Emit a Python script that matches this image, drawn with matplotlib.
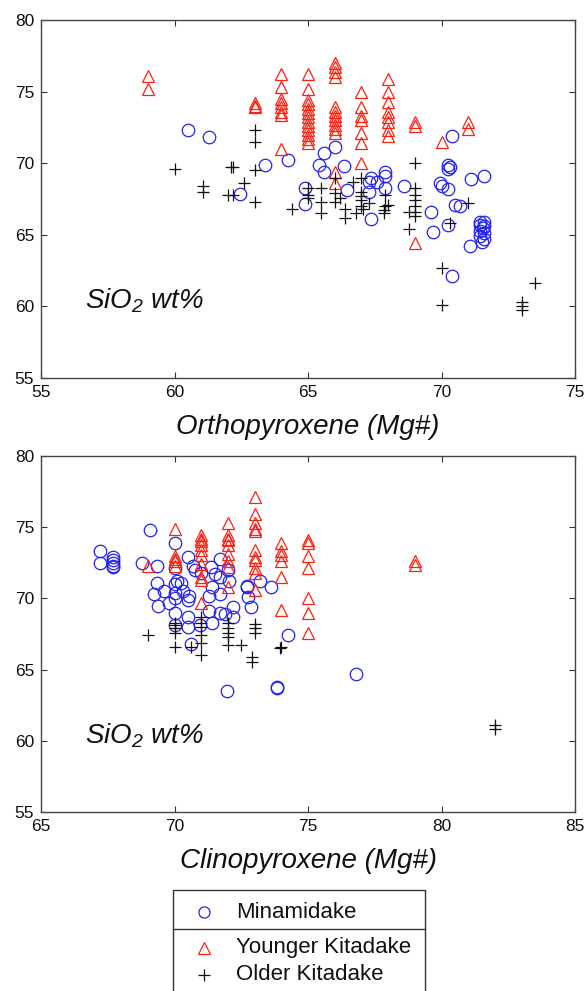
import matplotlib
matplotlib.use("Agg")
import matplotlib.pyplot as plt
from matplotlib.lines import Line2D
from matplotlib.patches import Rectangle

plt.rcParams['font.family'] = ['Liberation Sans', 'DejaVu Sans']

# ---------------- Orthopyroxene (top) ----------------
opx_min_x = [60.5, 61.3, 62.45, 63.4, 64.25, 64.9, 64.9, 65.4, 65.6, 66.0, 65.6, 66.35, 66.45,
             67.35, 67.3, 67.3, 67.35, 67.6, 67.9, 67.9, 67.9, 68.6,
             69.6, 69.7, 69.95, 70.0, 70.25, 70.25, 70.3, 70.25, 70.25, 70.4, 70.4, 70.5, 70.7,
             71.1, 71.6, 71.05,
             71.45, 71.6, 71.45, 71.55, 71.45, 71.6, 71.45, 71.6, 71.5, 71.6]
opx_min_y = [72.3, 71.8, 67.85, 69.9, 70.2, 68.3, 67.15, 69.9, 70.7, 71.1, 69.4, 69.8, 68.1,
             69.0, 68.7, 68.0, 66.1, 68.7, 69.4, 69.1, 68.3, 68.4,
             66.6, 65.2, 68.6, 68.4, 68.2, 69.9, 69.7, 69.6, 65.7, 71.9, 62.1, 67.1, 67.0,
             68.9, 69.1, 64.2,
             65.9, 65.9, 65.7, 65.5, 65.3, 65.1, 64.9, 64.7, 64.5, 65.6]

opx_young_x = [59, 59,
               63, 63, 63,
               64, 64, 64, 64, 64, 64, 64, 64,
               65, 65, 65, 65, 65, 65, 65, 65, 65, 65, 65, 65, 65,
               66, 66, 66, 66, 66, 66, 66, 66, 66, 66, 66, 66, 66,
               67, 67, 67, 67, 67, 67, 67,
               68, 68, 68, 68, 68, 68, 68, 68,
               69, 69, 69,
               70,
               71, 71]
opx_young_y = [76.1, 75.2,
               74.2, 74.0, 73.9,
               76.2, 75.3, 74.5, 74.2, 73.9, 73.6, 73.4, 71.0,
               76.2, 75.2, 74.4, 74.1, 73.8, 73.5, 73.2, 72.9, 72.6, 72.3, 72.0, 71.7, 71.4,
               77.0, 76.7, 76.4, 76.0, 73.9, 73.6, 73.3, 73.0, 72.7, 72.4, 72.1, 69.4, 68.6,
               75.0, 73.9, 73.3, 73.0, 72.1, 71.4, 70.0,
               75.9, 75.0, 74.3, 73.6, 73.2, 72.9, 72.3, 71.9,
               72.9, 72.6, 64.4,
               71.5,
               72.9, 72.4]

opx_old_x = [60.0, 61.05, 61.05, 62.1, 62.2, 62.0, 62.2, 62.6, 63.0, 63.0, 63.0, 63.0, 64.4,
             65.0, 65.0, 65.0, 65.5, 65.5, 65.5, 66.0, 66.0, 66.0, 66.2, 66.4, 66.4, 66.7, 66.8,
             67.0, 67.0, 67.0, 67.0, 67.0, 67.05, 67.3, 67.85, 67.85, 67.9, 67.9, 68.0,
             68.8, 68.8, 69.0, 69.0, 69.0, 69.0, 69.0, 69.0, 69.0,
             70.0, 70.0, 70.3, 71.0, 73.0, 73.0, 73.0, 73.5]
opx_old_y = [69.6, 68.4, 68.0, 69.7, 69.7, 67.8, 67.8, 68.6, 72.3, 71.5, 69.5, 67.3, 66.8,
             68.3, 67.8, 67.6, 68.3, 67.3, 66.5, 69.0, 67.9, 67.3, 67.6, 66.8, 66.2, 68.7, 66.5,
             69.0, 68.0, 67.7, 67.4, 67.0, 66.8, 67.2, 66.7, 66.5, 67.8, 67.0, 67.1,
             66.6, 65.4, 70.0, 68.3, 67.8, 67.4, 67.0, 66.6, 66.3,
             62.7, 60.1, 65.8, 67.2, 60.3, 60.0, 59.75, 61.6]

# ---------------- Clinopyroxene (bottom) ----------------
cpx_min_x = [67.2, 67.2, 67.7, 67.7, 67.7, 67.7, 67.7, 68.8, 69.1, 69.35, 69.35, 69.25, 69.6,
             69.4, 69.8, 70.0, 70.0, 70.1, 70.25, 70.0, 70.0, 70.0, 70.0, 70.5, 70.7, 70.75,
             70.55, 70.5, 70.5, 70.5, 70.6, 70.95, 71.35, 71.4, 71.3, 71.3, 71.4, 71.7, 71.7,
             71.7, 71.7, 71.9, 72.05, 72.2, 72.2, 72.7, 72.7, 72.75, 72.85, 73.2, 73.6, 74.25,
             76.8, 71.95, 73.85, 73.85, 70.0, 71.0, 71.5, 70.3, 72.0]
cpx_min_y = [73.3, 72.5, 72.9, 72.7, 72.5, 72.3, 72.2, 72.5, 74.8, 72.3, 71.1, 70.3, 70.5,
             69.5, 69.7, 73.9, 72.1, 71.2, 71.1, 70.4, 70.0, 69.0, 68.1, 72.9, 72.3, 72.0,
             70.2, 69.9, 68.7, 68.0, 66.8, 68.1, 72.2, 70.8, 70.2, 69.1, 68.3, 72.8, 71.5,
             70.3, 69.0, 68.9, 71.2, 69.4, 68.7, 70.9, 70.8, 70.1, 69.4, 71.2, 70.8, 67.4,
             64.7, 63.5, 63.8, 63.7, 71.0, 71.8, 71.7, 70.5, 72.0]

cpx_young_x = [69,
               70, 70, 70, 70, 70,
               71, 71, 71, 71, 71, 71, 71, 71, 71, 71,
               72, 72, 72, 72, 72, 72, 72, 72, 72,
               73, 73, 73, 73, 73, 73, 73, 73, 73, 73, 73,
               74, 74, 74, 74, 74, 74,
               75, 75, 75, 75, 75, 75, 75,
               79, 79]
cpx_young_y = [72.3,
               74.9, 73.0, 72.8, 72.6, 72.3,
               74.45, 74.2, 74.0, 73.75, 73.4, 73.05, 72.4, 71.5, 71.3, 69.7,
               75.3, 74.45, 74.2, 74.1, 73.75, 73.1, 72.6, 72.2, 70.8,
               77.1, 75.9, 75.3, 74.9, 74.7, 73.4, 72.9, 72.7, 72.1, 71.8, 70.6,
               73.9, 73.3, 73.05, 72.6, 71.5, 69.2,
               74.1, 73.9, 73.0, 72.1, 70.0, 69.0, 67.6,
               72.6, 72.35]

cpx_old_x = [69.0, 70.0, 70.0, 70.0, 70.0, 70.0, 70.6, 71.0, 71.0, 71.0, 71.0, 71.0, 71.0,
             72.0, 72.0, 72.0, 72.0, 72.0, 72.5, 72.9, 72.9, 73.0, 73.0, 73.0, 74.0, 73.95,
             82.0, 82.0]
cpx_old_y = [67.4, 68.3, 68.1, 67.9, 67.6, 66.6, 66.6, 68.7, 68.3, 68.0, 67.4, 66.9, 66.0,
             68.3, 67.9, 67.6, 67.3, 66.7, 66.7, 65.9, 65.5, 68.2, 67.9, 67.6, 66.6, 66.5,
             61.1, 60.8]

x_ticks_top = [55, 60, 65, 70, 75]
x_ticks_bot = [65, 70, 75, 80, 85]
y_ticks = [55, 60, 65, 70, 75, 80]
series_names = ["Minamidake", "Younger Kitadake", "Older Kitadake"]

BLUE = '#2222ee'
RED = '#ff2010'
BLACK = '#111111'

W, H = 587, 991
fig = plt.figure(figsize=(W / 100, H / 100), dpi=100)


def fx(px):
    return px / W


def fy(py):
    return 1 - py / H


plt.rcParams['mathtext.fontset'] = 'custom'
plt.rcParams['mathtext.it'] = 'Liberation Sans:italic'
plt.rcParams['mathtext.rm'] = 'Liberation Sans:italic'

ax1 = fig.add_axes([fx(41), fy(378), fx(575) - fx(41), fy(20) - fy(378)])
ax2 = fig.add_axes([fx(41), fy(812), fx(575) - fx(41), fy(456) - fy(812)])

ms_c, ms_t, ms_p = 9.0, 8.5, 8.5
mew = 0.9


def draw(ax, mx, my, yx, yy, ox, oy, xt, xlabel):
    ax.plot(mx, my, 'o', ms=ms_c, mfc='none', mec=BLUE, mew=mew, ls='none')
    ax.plot(yx, yy, '^', ms=ms_t, mfc='none', mec=RED, mew=mew, ls='none')
    ax.plot(ox, oy, '+', ms=ms_p, mec=BLACK, mew=mew, ls='none')
    ax.set_xlim(xt[0], xt[-1])
    ax.set_ylim(55, 80)
    ax.set_xticks(xt)
    ax.set_yticks(y_ticks)
    ax.tick_params(direction='in', top=True, right=True, length=4, width=0.8,
                   labelsize=12.5, colors='#333333', labelcolor='#111111', pad=5)
    for s in ax.spines.values():
        s.set_color('#444444')
        s.set_linewidth(1.0)
    ax.set_xlabel(xlabel, fontsize=20, style='italic', labelpad=10, color='#111111')
    ax.text(0.082, 0.215, r'SiO$_{2}$ wt%', transform=ax.transAxes, fontsize=20,
            style='italic', color='#111111', ha='left', va='center')


draw(ax1, opx_min_x, opx_min_y, opx_young_x, opx_young_y, opx_old_x, opx_old_y,
     x_ticks_top, 'Orthopyroxene (Mg#)')
draw(ax2, cpx_min_x, cpx_min_y, cpx_young_x, cpx_young_y, cpx_old_x, cpx_old_y,
     x_ticks_bot, 'Clinopyroxene (Mg#)')

# legend box (clipped at bottom of figure)
fig.add_artist(Rectangle((fx(173), fy(1000)), fx(425) - fx(173), fy(890) - fy(1000),
                         transform=fig.transFigure, fill=False, edgecolor='#333333', lw=1.0))
fig.add_artist(Line2D([fx(173), fx(425)], [fy(929), fy(929)], transform=fig.transFigure,
                      color='#333333', lw=1.0))
leg_rows = [(912, 'o', BLUE), (948, '^', RED), (975, '+', BLACK)]
for (py, mk, col), name in zip(leg_rows, series_names):
    fig.add_artist(Line2D([fx(204)], [fy(py)], transform=fig.transFigure, marker=mk,
                          ms=8.0, mfc='none', mec=col, mew=mew, ls='none'))
    fig.text(fx(236), fy(py), name, fontsize=16, ha='left', va='center', color='#111111')

fig.savefig('out.png', dpi=100)
